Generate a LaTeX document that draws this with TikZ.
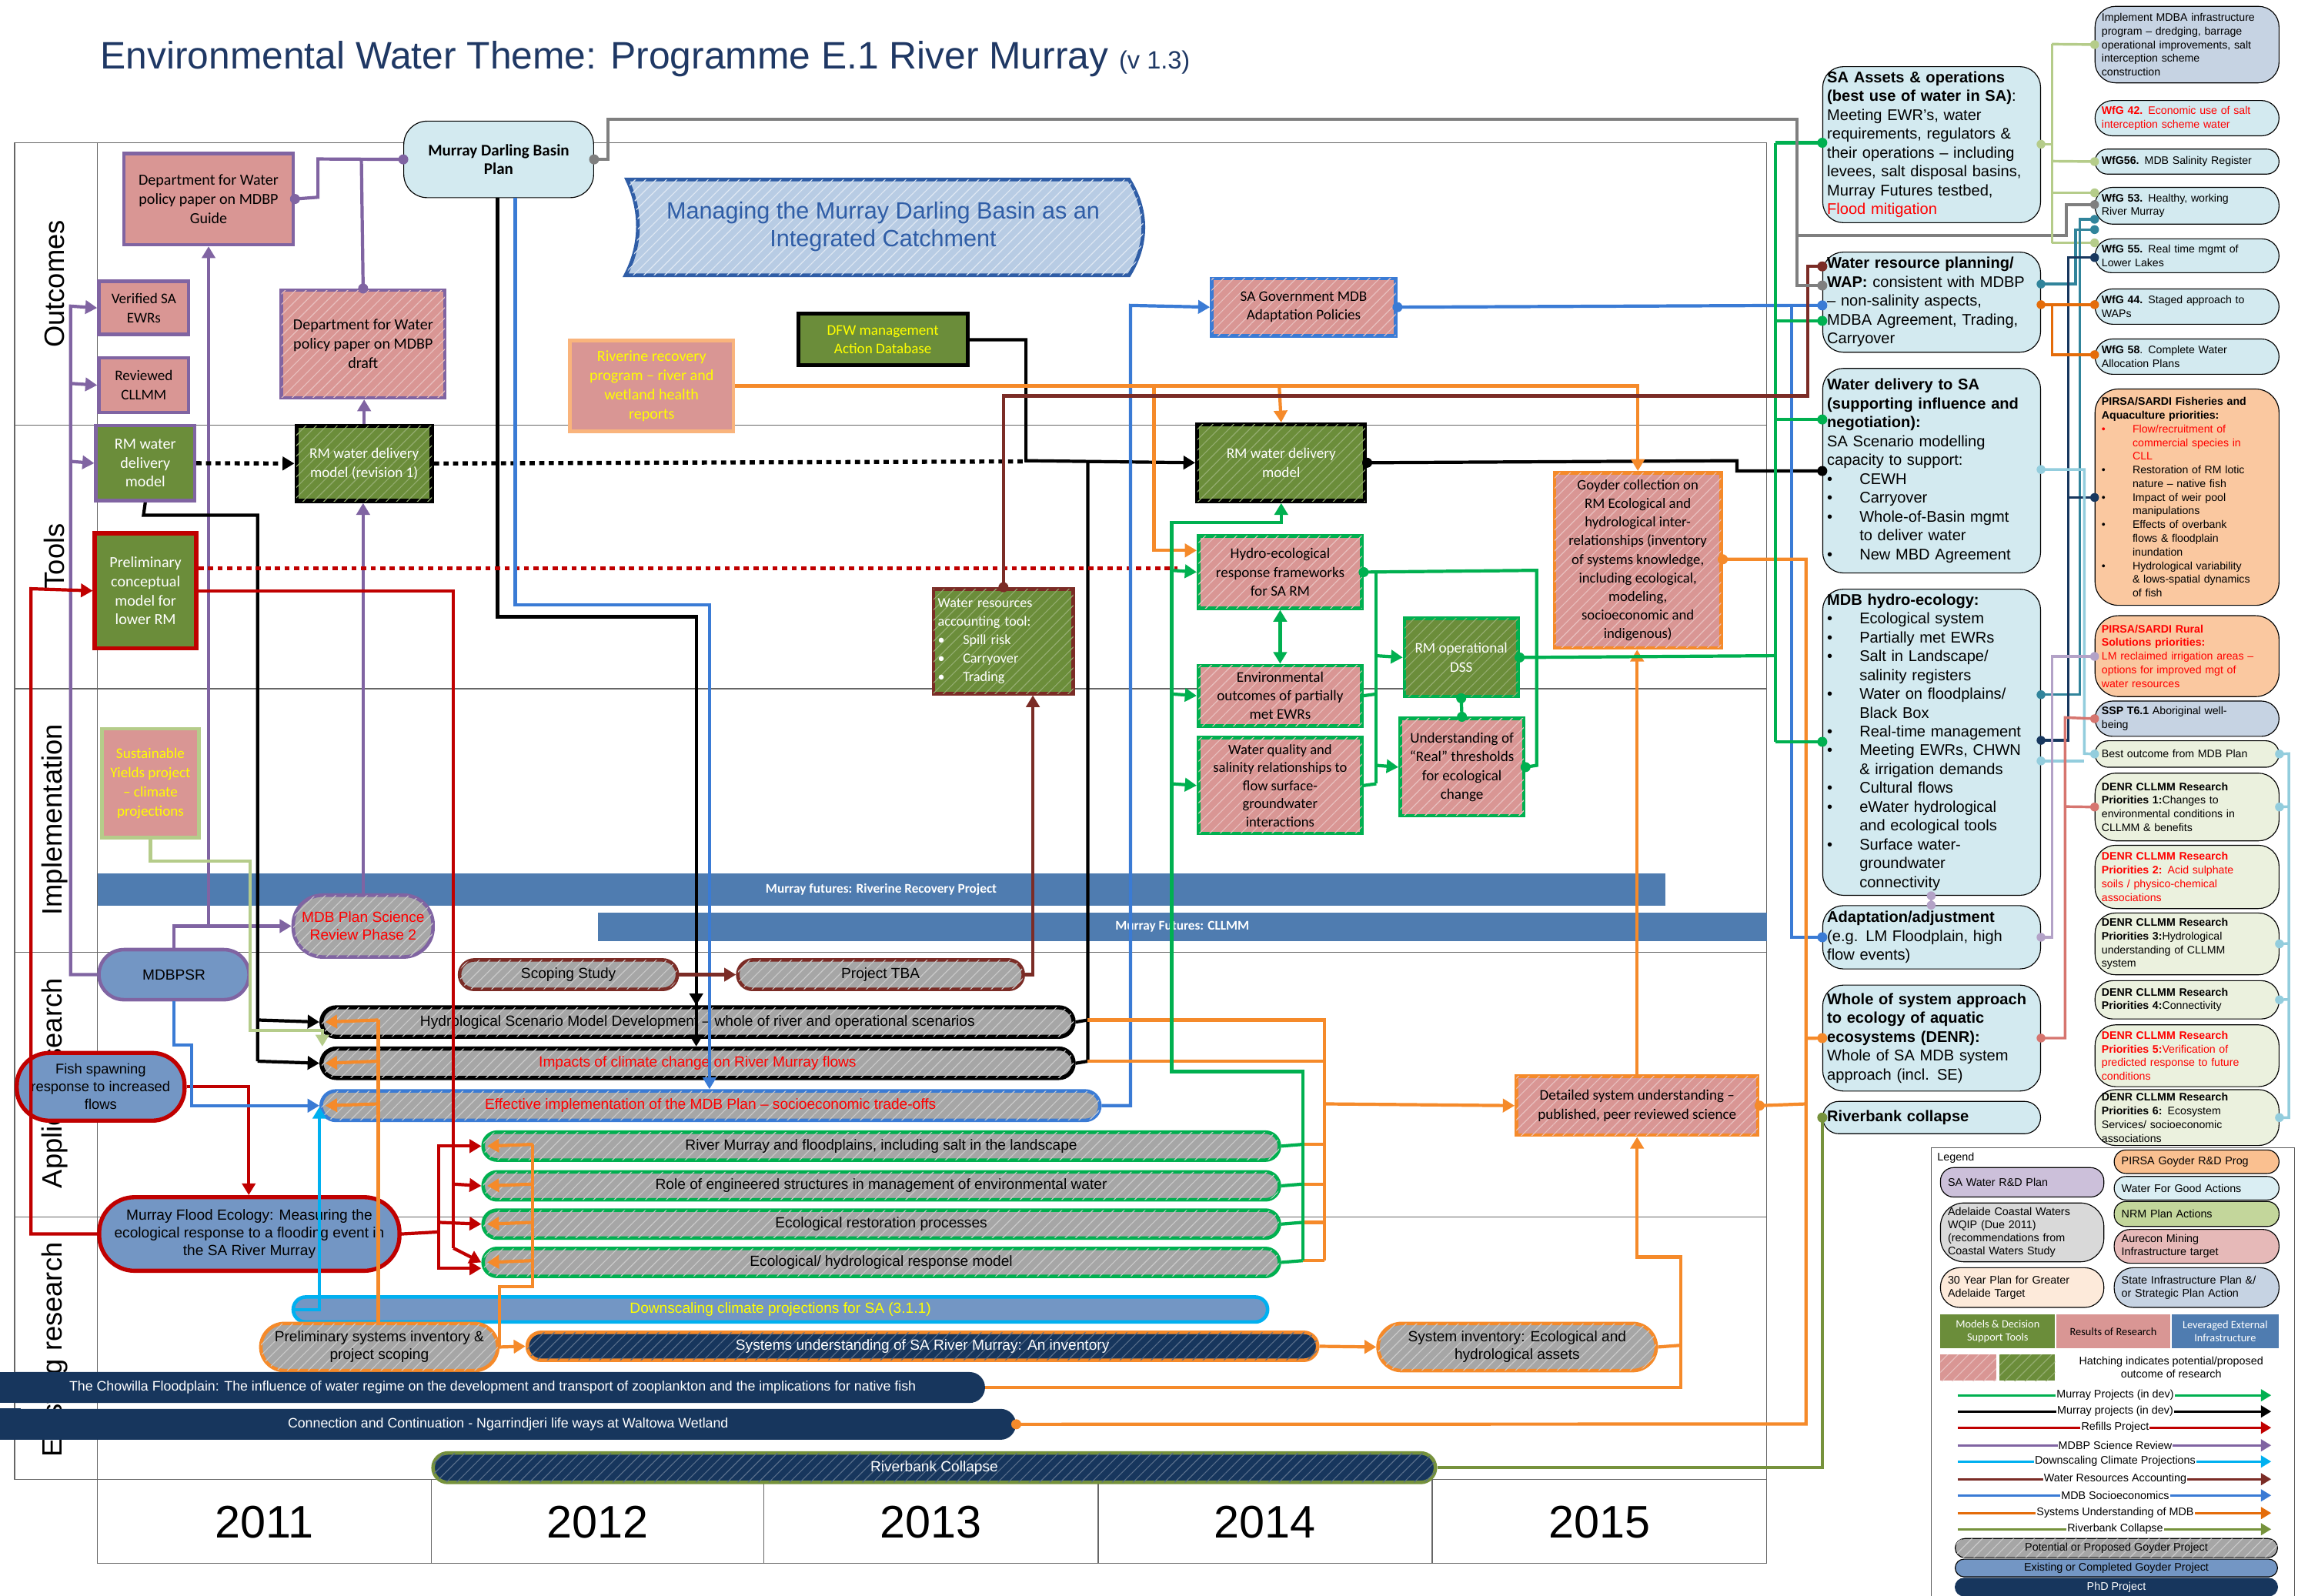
\documentclass[tikz,border=0pt]{standalone}
\usepackage{fontspec}
\setmainfont{Liberation Sans}
\newfontfamily\carl{Carlito}
\usetikzlibrary{arrows.meta,patterns.meta,calc}

% fills
\definecolor{pinkF}{HTML}{D99694}
\definecolor{oliveF}{HTML}{6B8D3A}
\definecolor{steelF}{HTML}{7396C4}
\definecolor{paleB}{HTML}{D3EAF0}
\definecolor{greyF}{HTML}{A6A6A6}
\definecolor{navyF}{HTML}{17365D}
\definecolor{bandB}{HTML}{4F7CB0}
\definecolor{peachF}{HTML}{FAC8A0}
\definecolor{slateF}{HTML}{C6D3E3}
\definecolor{creamF}{HTML}{EBF1DE}
\definecolor{bannerF}{HTML}{B8CCE4}
\definecolor{lilacF}{HTML}{CCC0DA}
\definecolor{lgreyF}{HTML}{D9D9D9}
\definecolor{creamY}{HTML}{FDEADA}
\definecolor{peach2}{HTML}{FAC090}
\definecolor{wfgF}{HTML}{DAEEF3}
\definecolor{nrmF}{HTML}{C3D69B}
\definecolor{aureF}{HTML}{E6B9B8}
% hatch line shades
\colorlet{hpinkC}{pinkF!60!white}
\colorlet{holiveC}{oliveF!72!white}
\colorlet{hgreyC}{greyF!60!white}
\colorlet{hnavyC}{navyF!72!white}
\colorlet{hbannerC}{bannerF!45!white}
% lines and text
\definecolor{purpL}{HTML}{8064A2}
\definecolor{redL}{HTML}{C00000}
\definecolor{greenL}{HTML}{00B050}
\definecolor{orangeL}{HTML}{F58A2A}
\definecolor{blueL}{HTML}{3A7BD5}
\definecolor{brownL}{HTML}{7B2C26}
\definecolor{nrmL}{HTML}{B5CC8A}
\definecolor{cyanL}{HTML}{00B0F0}
\definecolor{tealL}{HTML}{31849B}
\definecolor{navyL}{HTML}{17375E}
\definecolor{skyL}{HTML}{93CDDD}
\definecolor{salmonL}{HTML}{D6756F}
\definecolor{lavL}{HTML}{B3A2C7}
\definecolor{rustL}{HTML}{E46C0A}
\definecolor{greyL}{HTML}{7F7F7F}
\definecolor{oliveL}{HTML}{76923C}
\definecolor{riverB}{HTML}{F9B47C}
\definecolor{bannerL}{HTML}{2F5DA6}
\definecolor{titleC}{HTML}{1F3864}
\definecolor{yellowT}{HTML}{FFFF00}
\definecolor{redT}{HTML}{FF0000}

\newcommand\bitem{\makebox[22pt][l]{\textbullet}}
\newcommand\bcont{\hspace*{22pt}}
\newcommand\fitem{\makebox[21pt][l]{\textbullet}}
\newcommand\fcont{\hspace*{21pt}}
\newcommand\jdot[2]{\fill[#1] (#2) circle[radius=3.4pt];}
\newcommand\sdot[2]{\fill[#1] (#2) circle[radius=3pt];}

\tikzset{
  bx/.style={rectangle, draw, anchor=north west, align=center, inner sep=1.5pt},
  hpk/.style={postaction={pattern={Lines[angle=45,distance=5pt,line width=0.6pt]}, pattern color=hpinkC}},
  hol/.style={postaction={pattern={Lines[angle=45,distance=5pt,line width=0.6pt]}, pattern color=holiveC}},
  hgr/.style={postaction={pattern={Lines[angle=45,distance=5pt,line width=0.6pt]}, pattern color=hgreyC}},
  hnv/.style={postaction={pattern={Lines[angle=45,distance=5pt,line width=0.6pt]}, pattern color=hnavyC}},
  hbn/.style={postaction={pattern={Lines[angle=45,distance=5pt,line width=0.6pt]}, pattern color=hbannerC}},
  pinkbox/.style={bx, fill=pinkF, line width=2.4pt, font=\carl\fontsize{10.5}{13}\selectfont},
  olivebox/.style={bx, fill=oliveF, line width=2.4pt, text=white, font=\carl\fontsize{10.5}{13}\selectfont},
  pillbox/.style={bx, line width=2.4pt, font=\fontsize{10}{12}\selectfont, inner sep=0pt},
  band/.style={bx, draw=none, fill=bandB, text=white, font=\carl\bfseries\fontsize{9}{10}\selectfont, inner sep=0pt},
  navybar/.style={bx, draw=none, fill=navyF, text=white, font=\fontsize{9.3}{11}\selectfont, inner sep=0pt, rounded corners=10.5pt},
  outbox/.style={bx, fill=paleB, rounded corners=14pt, line width=0.6pt, align=left, text width=142pt, inner xsep=3pt, inner ysep=1pt, font=\fontsize{10.5}{12.8}\selectfont},
  farbox/.style={bx, fill=paleB, rounded corners=10pt, line width=0.6pt, align=left, text width=116pt, inner xsep=4.5pt, inner ysep=0.5pt, minimum width=125pt, font=\fontsize{7.4}{9.3}\selectfont},
  legbox/.style={bx, rounded corners=9pt, line width=0.6pt, align=left, inner xsep=5pt, inner ysep=0.5pt, font=\fontsize{7.5}{9}\selectfont},
  ln/.style={line width=2.2pt},
  rl/.style={line width=1.8pt},
  ar/.style={-{Triangle[length=8pt,width=9pt]}},
  dashln/.style={line width=2.8pt, dash pattern=on 3.5pt off 3pt},
  gridln/.style={draw=gray!80!black, line width=0.7pt},
  lane/.style={rotate=90, font=\fontsize{19}{22}\selectfont},
  yearlbl/.style={font=\fontsize{31}{34}\selectfont},
}

\begin{document}
\begin{tikzpicture}[x=1pt,y=-1pt]
\useasboundingbox (0,0) rectangle (1568,1084);
\fill[white] (0,0) rectangle (1568,1084);

% ---------- title ----------
\node[anchor=base west, text=titleC, inner sep=0pt, font=\fontsize{26}{30}\selectfont] (title) at (68,47)
  {Environmental Water Theme: Programme E.1 River Murray\ {\fontsize{17}{20}\selectfont(v 1.3)}};

% ---------- swim lanes and year row ----------
\draw[gridln] (10,97) rectangle (1200,1005);
\draw[gridln] (66,97) -- (66,1062) -- (1200,1062) -- (1200,1005);
\foreach \yy in {289,468,647,827} \draw[gridln] (10,\yy) -- (1200,\yy);
\foreach \xx in {293,519,746,973} \draw[gridln] (\xx,1005) -- (\xx,1062);
\node[lane] (lnout) at (37,193) {Outcomes};
\node[lane] (lntool) at (37,378) {Tools};
\node[lane] (lnimp) at (37,557) {Implementation};
\node[lane] (lnapp) at (37,736) {Applied research};
\node[lane] (lnexi) at (37,917) {Existing research};
\node[yearlbl] (y11) at (179.5,1034) {2011};
\node[yearlbl] (y12) at (406,1034) {2012};
\node[yearlbl] (y13) at (632.5,1034) {2013};
\node[yearlbl] (y14) at (859.5,1034) {2014};
\node[yearlbl] (y15) at (1086.5,1034) {2015};

% ---------- outcomes ----------
\node[pinkbox, draw=purpL, minimum width=115pt, minimum height=62pt] (guide) at (83,103) {Department for Water\\policy paper on MDBP\\Guide};
\node[pinkbox, draw=purpL, minimum width=61pt, minimum height=36pt, font=\carl\fontsize{10}{13}\selectfont] (verified) at (66,190) {Verified SA\\EWRs};
\node[pinkbox, draw=purpL, minimum width=61pt, minimum height=37pt, font=\carl\fontsize{10}{13}\selectfont] (reviewed) at (66,242) {Reviewed\\CLLMM};
\node[pinkbox, hpk, draw=purpL, minimum width=111pt, minimum height=73pt] (draft) at (190,196) {Department for Water\\policy paper on MDBP\\draft};
\node[bx, fill=paleB, rounded corners=16pt, line width=0.6pt, minimum width=129pt, minimum height=52pt, font=\carl\bfseries\fontsize{11}{13}\selectfont] (mdbp) at (274,82) {Murray Darling Basin\\Plan};
\path[draw=bannerL, line width=2.5pt, fill=bannerF, hbn] (426,122) -- (767,122) .. controls (780,143) and (780,166) .. (767,187) -- (425,187) .. controls (436,166) and (436,143) .. (426,122) -- cycle;
\node[text=bannerL, align=center, font=\fontsize{16}{19}\selectfont] (banner) at (600,154) {Managing the Murray Darling Basin as an\\Integrated Catchment};
\node[bx, fill=oliveF, line width=2.6pt, text=yellowT, minimum width=115pt, minimum height=35pt, font=\carl\fontsize{10}{13}\selectfont] (dfw) at (541,212) {DFW management\\Action Database};
\node[pinkbox, draw=riverB, text=yellowT, minimum width=111pt, minimum height=62pt] (riverine) at (386,230) {Riverine recovery\\program – river and\\wetland health\\reports};
\node[pinkbox, hpk, draw=blueL, minimum width=125pt, minimum height=39pt, font=\carl\fontsize{10}{12.5}\selectfont] (sagov) at (822,188) {SA Government MDB\\Adaptation Policies};

% ---------- tools ----------
\node[olivebox, draw=purpL, minimum width=67pt, minimum height=51pt, font=\carl\fontsize{10.5}{12.8}\selectfont] (rmleft) at (64,288) {RM water\\delivery\\model};
\node[olivebox, hol, draw=black, line width=2.8pt, minimum width=92pt, minimum height=51pt, font=\carl\fontsize{10}{13}\selectfont] (rmrev) at (200,288) {RM water delivery\\model (revision 1)};
\node[olivebox, hol, draw=black, line width=2.8pt, minimum width=114pt, minimum height=52pt, font=\carl\fontsize{10}{13}\selectfont] (rmcen) at (812,287) {RM water delivery\\model};
\node[olivebox, draw=redL, line width=2.8pt, minimum width=69pt, minimum height=78pt] (prelim) at (63,361) {Preliminary\\conceptual\\model for\\lower RM};
\node[olivebox, hol, draw=brownL, minimum width=95pt, minimum height=71pt, align=left, text width=89pt, font=\carl\fontsize{9.5}{12.5}\selectfont] (wrat) at (633,399) {Water resources\\accounting tool:\\\makebox[17pt][l]{\textbullet}Spill risk\\\makebox[17pt][l]{\textbullet}Carryover\\\makebox[17pt][l]{\textbullet}Trading};
\node[pinkbox, hpk, draw=greenL, minimum width=111pt, minimum height=49pt, font=\carl\fontsize{10}{13}\selectfont] (hydeco) at (813,363) {Hydro-ecological\\response frameworks\\for SA RM};
\node[pinkbox, hpk, draw=greenL, minimum width=111pt, minimum height=41pt, font=\carl\fontsize{10}{12.6}\selectfont] (envout) at (813,451) {Environmental\\outcomes of partially\\met EWRs};
\node[pinkbox, hpk, draw=greenL, minimum width=111pt, minimum height=65pt, font=\carl\fontsize{9.7}{12.3}\selectfont] (wq) at (813,500) {Water quality and\\salinity relationships to\\flow surface-\\groundwater\\interactions};
\node[olivebox, hol, draw=greenL, minimum width=77pt, minimum height=53pt, font=\carl\fontsize{10}{13}\selectfont] (dss) at (953,419) {RM operational\\DSS};
\node[pinkbox, hpk, draw=greenL, minimum width=84pt, minimum height=66pt, font=\carl\fontsize{10}{12.8}\selectfont] (thresh) at (950,487) {Understanding of\\“Real” thresholds\\for ecological\\change};
\node[pinkbox, hpk, draw=orangeL, minimum width=113pt, minimum height=119pt, font=\carl\fontsize{9.8}{12.6}\selectfont] (goyder) at (1055,320) {Goyder collection on\\RM Ecological and\\hydrological inter-\\relationships (inventory\\of systems knowledge,\\including ecological,\\modeling,\\socioeconomic and\\indigenous)};

% ---------- implementation ----------
\node[pinkbox, draw=nrmL, text=yellowT, minimum width=66pt, minimum height=74pt, font=\carl\fontsize{10}{13}\selectfont] (syp) at (68,494) {Sustainable\\Yields project\\– climate\\projections};
\node[band, minimum width=1065pt, minimum height=22pt] (rrp) at (66,593) {Murray futures: Riverine Recovery Project};
\node[band, minimum width=794pt, minimum height=19pt] (cllmm) at (406,620) {Murray Futures: CLLMM};
\node[pillbox, fill=greyF, hgr, draw=purpL, text=redT, rounded corners=20pt, minimum width=95pt, minimum height=42pt] (review2) at (198,607) {MDB Plan Science\\Review Phase 2};
\node[pillbox, fill=steelF, draw=purpL, rounded corners=17pt, minimum width=102pt, minimum height=34pt] (mdbpsr) at (66,644) {MDBPSR};

% ---------- applied research ----------
\node[pillbox, fill=greyF, hgr, draw=brownL, rounded corners=10pt, minimum width=148pt, minimum height=20pt] (scoping) at (311,651) {Scoping Study};
\node[pillbox, fill=greyF, hgr, draw=brownL, rounded corners=10pt, minimum width=194pt, minimum height=20pt] (tba) at (500,651) {Project TBA};
\node[pillbox, fill=greyF, hgr, draw=black, line width=2.8pt, rounded corners=10pt, minimum width=511pt, minimum height=20pt] (hsm) at (217,683) {Hydrological Scenario Model Development – whole of river and operational scenarios};
\node[pillbox, fill=greyF, hgr, draw=black, line width=2.8pt, text=redT, rounded corners=10pt, minimum width=511pt, minimum height=20pt] (icc) at (217,711) {Impacts of climate change on River Murray flows};
\node[pillbox, fill=greyF, hgr, draw=blueL, text=redT, rounded corners=10pt, minimum width=529pt, minimum height=20pt] (eff) at (217,740) {Effective implementation of the MDB Plan – socioeconomic trade-offs};
\node[pillbox, fill=steelF, draw=redL, line width=2.8pt, rounded corners=22pt, minimum width=114pt, minimum height=46pt, font=\fontsize{9.6}{12}\selectfont] (fish) at (10,714) {Fish spawning\\response to increased\\flows};
\node[pillbox, fill=greyF, hgr, draw=greenL, rounded corners=9.5pt, minimum width=541pt, minimum height=19pt] (rm1) at (327,768) {River Murray and floodplains, including salt in the landscape};
\node[pillbox, fill=greyF, hgr, draw=greenL, rounded corners=9.5pt, minimum width=541pt, minimum height=19pt] (rm2) at (327,795) {Role of engineered structures in management of environmental water};
\node[pillbox, fill=greyF, hgr, draw=greenL, rounded corners=9.5pt, minimum width=541pt, minimum height=19pt] (rm3) at (327,821) {Ecological restoration processes};
\node[pillbox, fill=greyF, hgr, draw=greenL, rounded corners=9.5pt, minimum width=541pt, minimum height=19pt] (rm4) at (327,847) {Ecological/ hydrological response model};
\node[pillbox, fill=steelF, draw=redL, line width=2.8pt, rounded corners=24pt, minimum width=204pt, minimum height=50pt] (flood) at (66,812) {Murray Flood Ecology: Measuring the\\ecological response to a flooding event in\\the SA River Murray};

% ---------- existing research ----------
\node[pillbox, fill=steelF, draw=cyanL, text=yellowT, rounded corners=8.5pt, minimum width=662pt, minimum height=17pt] (down) at (198,880) {Downscaling climate projections for SA (3.1.1)};
\node[pillbox, fill=greyF, hgr, draw=orangeL, rounded corners=16pt, minimum width=161pt, minimum height=32pt] (psi) at (176,898) {Preliminary systems inventory \&\\project scoping};
\node[pillbox, fill=navyF, hnv, draw=orangeL, text=white, rounded corners=9.5pt, minimum width=537pt, minimum height=19pt] (sus) at (357,904) {Systems understanding of SA River Murray: An inventory};
\node[pillbox, fill=greyF, hgr, draw=orangeL, rounded corners=16pt, minimum width=189pt, minimum height=32pt] (sysinv) at (935,898) {System inventory: Ecological and\\hydrological assets};
\node[navybar, minimum width=669pt, minimum height=21pt] (chow) at (0,932) {The Chowilla Floodplain: The influence of water regime on the development and transport of zooplankton and the implications for native fish};
\fill[navyF] (0,932) rectangle (14,953);
\node[navybar, minimum width=690pt, minimum height=21pt] (conn) at (0,957) {Connection and Continuation - Ngarrindjeri life ways at Waltowa Wetland};
\fill[navyF] (0,957) rectangle (14,978);
\node[pillbox, fill=navyF, hnv, draw=oliveL, text=white, rounded corners=10pt, minimum width=681pt, minimum height=20pt] (rbc) at (293,986) {Riverbank Collapse};
\node[pinkbox, hpk, draw=orangeL, minimum width=164pt, minimum height=40pt, font=\carl\fontsize{10}{13}\selectfont] (detail) at (1029,730) {Detailed system understanding –\\published, peer reviewed science};

% ---------- outcome targets (right column) ----------
\node[outbox, minimum height=106pt] (sa) at (1238,45) {\textbf{SA Assets \& operations}\\\textbf{(best use of water in SA)}:\\Meeting EWR’s, water\\requirements, regulators \&\\their operations – including\\levees, salt disposal basins,\\Murray Futures testbed,\\{\color{redT}Flood mitigation}};
\node[outbox, minimum height=68pt] (wrp) at (1238,171) {\textbf{Water resource planning/}\\\textbf{WAP:} consistent with MDBP\\– non-salinity aspects,\\MDBA Agreement, Trading,\\Carryover};
\node[outbox, minimum height=139pt] (wdel) at (1238,250) {\textbf{Water delivery to SA}\\\textbf{(supporting influence and}\\\textbf{negotiation):}\\SA Scenario modelling\\capacity to support:\\\bitem CEWH\\\bitem Carryover\\\bitem Whole-of-Basin mgmt\\\bcont to deliver water\\\bitem New MBD Agreement};
\node[outbox, minimum height=208pt] (hydro) at (1238,400) {\textbf{MDB hydro-ecology:}\\\bitem Ecological system\\\bitem Partially met EWRs\\\bitem Salt in Landscape/\\\bcont salinity registers\\\bitem Water on floodplains/\\\bcont Black Box\\\bitem Real-time management\\\bitem Meeting EWRs, CHWN\\\bcont \& irrigation demands\\\bitem Cultural flows\\\bitem eWater hydrological\\\bcont and ecological tools\\\bitem Surface water-\\\bcont groundwater\\\bcont connectivity};
\node[outbox, minimum height=43pt] (adapt) at (1238,615) {\textbf{Adaptation/adjustment}\\(e.g. LM Floodplain, high\\flow events)};
\node[outbox, minimum height=72pt] (whole) at (1238,669) {\textbf{Whole of system approach}\\\textbf{to ecology of aquatic}\\\textbf{ecosystems (DENR):}\\Whole of SA MDB system\\approach (incl. SE)};
\node[outbox, minimum height=22pt, rounded corners=11pt] (rbank) at (1238,748) {\textbf{Riverbank collapse}};

% ---------- policy links (far right column) ----------
\node[farbox, fill=slateF, rounded corners=14pt, minimum height=52pt] (impl) at (1423,4) {Implement MDBA infrastructure\\program – dredging, barrage\\operational improvements, salt\\interception scheme\\construction};
\node[farbox, text=redT, rounded corners=12pt, minimum height=24pt] (w42) at (1423,68) {\textbf{WfG 42.} Economic use of salt\\interception scheme water};
\node[farbox, rounded corners=8.5pt, minimum height=17pt] (w56) at (1423,101) {\textbf{WfG56.} MDB Salinity Register};
\node[farbox, rounded corners=12pt, minimum height=25pt] (w53) at (1423,127) {\textbf{WfG 53.} Healthy, working\\River Murray};
\node[farbox, rounded corners=11.5pt, minimum height=23pt] (w55) at (1423,162) {\textbf{WfG 55.} Real time mgmt of\\Lower Lakes};
\node[farbox, rounded corners=12pt, minimum height=24pt] (w44) at (1423,196) {\textbf{WfG 44.} Staged approach to\\WAPs};
\node[farbox, rounded corners=12pt, minimum height=24pt] (w58) at (1423,230) {\textbf{WfG 58}. Complete Water\\Allocation Plans};
\node[farbox, fill=peachF, rounded corners=16pt, minimum height=147pt] (pirsa1) at (1423,264) {\textbf{PIRSA/SARDI Fisheries and}\\\textbf{Aquaculture priorities:}\\{\color{redT}\fitem Flow/recruitment of}\\{\color{redT}\fcont commercial species in}\\{\color{redT}\fcont CLL}\\\fitem Restoration of RM lotic\\\fcont nature – native fish\\\fitem Impact of weir pool\\\fcont manipulations\\\fitem Effects of overbank\\\fcont flows \& floodplain\\\fcont inundation\\\fitem Hydrological variability\\\fcont \& lows-spatial dynamics\\\fcont of fish};
\node[farbox, fill=peachF, text=redT, rounded corners=16pt, minimum height=55pt] (pirsa2) at (1423,418) {\textbf{PIRSA/SARDI Rural}\\\textbf{Solutions priorities:}\\LM reclaimed irrigation areas –\\options for improved mgt of\\water resources};
\node[farbox, fill=slateF, rounded corners=12pt, minimum height=24pt] (ssp) at (1423,476) {\textbf{SSP T6.1} Aboriginal well-\\being};
\node[farbox, fill=creamF, rounded corners=9pt, minimum height=18pt] (best) at (1423,503) {Best outcome from MDB Plan};
\node[farbox, fill=creamF, rounded corners=14pt, minimum height=46pt] (denr1) at (1423,525) {\textbf{DENR CLLMM Research}\\\textbf{Priorities 1:}Changes to\\environmental conditions in\\CLLMM \& benefits};
\node[farbox, fill=creamF, text=redT, rounded corners=14pt, minimum height=43pt] (denr2) at (1423,574) {\textbf{DENR CLLMM Research}\\\textbf{Priorities 2:} Acid sulphate\\soils / physico-chemical\\associations};
\node[farbox, fill=creamF, rounded corners=14pt, minimum height=42pt] (denr3) at (1423,620) {\textbf{DENR CLLMM Research}\\\textbf{Priorities 3:}Hydrological\\understanding of CLLMM\\system};
\node[farbox, fill=creamF, rounded corners=12pt, minimum height=26pt] (denr4) at (1423,666) {\textbf{DENR CLLMM Research}\\\textbf{Priorities 4:}Connectivity};
\node[farbox, fill=creamF, text=redT, rounded corners=14pt, minimum height=42pt] (denr5) at (1423,696) {\textbf{DENR CLLMM Research}\\\textbf{Priorities 5:}Verification of\\predicted response to future\\conditions};
\node[farbox, fill=creamF, rounded corners=14pt, minimum height=38pt] (denr6) at (1423,740) {\textbf{DENR CLLMM Research}\\\textbf{Priorities 6:} Ecosystem\\Services/ socioeconomic\\associations};

% ================= connectors =================
% MDBP science review (purple)
\draw[ln, purpL] (mdbp.west) -- (216,108) -- (216,134) -- (guide.east);
\draw[ln, purpL] (245.5,108) -- (draft.north);
\jdot{purpL}{mdbp.west} \jdot{purpL}{guide.east} \jdot{purpL}{draft.north}
\draw[ln, purpL, ar] (mdbpsr.north) |- (review2.west);
\draw[ln, purpL, ar] (guide.south |- 0,628) -- (guide.south);
\draw[ln, purpL, ar] (mdbpsr.west) -| (48,208) -- (verified.west);
\draw[ln, purpL, ar] (48,260.5) -- (reviewed.west);
\draw[ln, purpL, ar] (48,313.5) -- (rmleft.west);
\draw[ln, purpL, ar] (review2.north) -- (review2.north |- rmrev.south);
\draw[ln, purpL, ar] (rmrev.north) -- (rmrev.north |- draft.south);

% Murray projects (black)
\draw[dashln, ar] (rmleft.east) -- (rmrev.west);
\draw[dashln] (rmrev.east) -- (697,313.5);
\draw[ln, black, ar] (dfw.east) -| (697,313) -- (rmcen.west);
\draw[ln, black] (rmcen.east) -- (1180,313) -- (1180,320) -- (wdel.west |- 0,320);
\jdot{black}{rmcen.east} \jdot{black}{wdel.west |- 0,320}
\draw[ln, black, ar] ([xshift=64pt]mdbp.south west) |- (473,419) -- (473,711);
\draw[ln, black, ar] (473,670) -- (473,683);
\draw[ln, black] (rmleft.south) -- (97.5,350) -- (175,350) -- (175,721);
\draw[ln, black, ar] (175,693) -- (hsm.west);
\draw[ln, black, ar] (175,721) -- (icc.west);
\draw[ln, black] (739,313) -- (739,721) -- (icc.east);
\draw[ln, black] (739,693) -- (hsm.east);

% Refills project (red)
\draw[dashln, redL] (prelim.east |- 0,386) -- (800,386);
\draw[ln, redL, ar] (flood.west) -| (21,400) -- (prelim.west);
\draw[ln, redL] (prelim.east) -| (308,848);
\draw[ln, redL, ar] (308,804.5) -- (rm2.west);
\draw[ln, redL, ar] (308,848) -- (rm4.west);
\draw[ln, redL] (flood.east) -- (298,837);
\draw[ln, redL, ar] (298,837) |- (rm1.west);
\draw[ln, redL, ar] (298,830.5) -- (rm3.west);
\draw[ln, redL, ar] (298,837) |- ([yshift=-4pt]rm4.west);
\draw[ln, redL, ar] (fish.east) -| (flood.north -| 169,0);

% MDB socioeconomics (blue)
\draw[ln, blueL, ar] ([xshift=76pt]mdbp.south west) |- (482,411) -- (482,740);
\draw[ln, blueL, ar] (mdbpsr.south) |- (130,710) |- (eff.west);
\draw[ln, blueL, ar] (eff.east) -| (768,207.5) -- (sagov.west);
\draw[ln, blueL] (sagov.east) -- (1217,207.5) -- (wrp.west |- 0,207.5);
\draw[ln, blueL] (1217,207.5) |- (adapt.west);
\jdot{blueL}{sagov.east} \jdot{blueL}{wrp.west |- 0,207.5} \jdot{blueL}{adapt.west}

% systems understanding (orange)
\draw[ln, orangeL, ar] (riverine.east) -| (goyder.north);
\draw[ln, orangeL, ar] (869,261) -- (rmcen.north);
\draw[ln, orangeL, ar] (784,261) |- (hydeco.west |- 0,374);
\draw[ln, orangeL] (goyder.east |- 0,380) -- (1227,380) -- (1227,967.5) -- (conn.east);
\draw[ln, orangeL] (1227,705.5) -- (whole.west);
\draw[ln, orangeL] (detail.east) -- (1227,750);
\jdot{orangeL}{goyder.east |- 0,380} \jdot{orangeL}{whole.west} \jdot{orangeL}{detail.east} \jdot{orangeL}{conn.east}
\draw[ln, orangeL, ar] (detail.north) -- (detail.north |- goyder.south);
\draw[ln, orangeL, ar] (chow.east) -| (1142,854) -| (detail.south);
\draw[ln, orangeL] (sysinv.east) -- (1142,914);
\draw[ln, orangeL] (739,693) -- (900,693) -- (900,856.5);
\draw[ln, orangeL] (739,721) -- (900,721);
\draw[ln, orangeL, ar] (900,750) -- (detail.west);
\foreach \yy in {777.5,804.5,830.5,856.5} \draw[ln, orangeL] (885,\yy) -- (900,\yy);
\draw[ln, orangeL] (psi.north -| 257,0) -- (257,693);
\draw[ln, orangeL, ar] (257,693) -- ([xshift=4pt]hsm.west);
\draw[ln, orangeL, ar] (257,721) -- ([xshift=4pt]icc.west);
\draw[ln, orangeL, ar] (257,750) -- ([xshift=4pt]eff.west);
\draw[ln, orangeL, ar] (psi.east) -- (sus.west);
\draw[ln, orangeL] (psi.east) |- (362,874) -- (362,777.5);
\draw[ln, orangeL, ar] (362,777.5) -- ([xshift=4pt]rm1.west);
\draw[ln, orangeL, ar] (362,804.5) -- ([xshift=4pt]rm2.west);
\draw[ln, orangeL, ar] (362,830.5) -- ([xshift=4pt]rm3.west);
\draw[ln, orangeL, ar] (362,856.5) -- ([xshift=4pt]rm4.west);
\draw[ln, orangeL, ar] (sus.east) -- (sysinv.west);

% Murray projects (green)
\draw[ln, greenL] (rm1.east) -- (885,777.5);
\draw[ln, greenL] (rm2.east) -- (885,804.5);
\draw[ln, greenL] (rm3.east) -- (885,830.5);
\draw[ln, greenL] (rm4.east) -- (885,856.5);
\draw[ln, greenL, ar] (885,856.5) -- (885,728) -- (796,728) -- (796,355) -| (rmcen.south);
\draw[ln, greenL, ar] (796,387.5) -- (hydeco.west);
\draw[ln, greenL, ar] (796,471.5) -- (envout.west);
\draw[ln, greenL, ar] (796,532.5) -- (wq.west);
\draw[ln, greenL, {Triangle[length=8pt,width=9pt]}-{Triangle[length=8pt,width=9pt]}] (hydeco.south) -- (envout.north);
\draw[ln, greenL] (hydeco.east) -- (1044,387.5) -- (1044,520) -- (thresh.east);
\draw[ln, greenL] (935,387.5) -- (935,532.5);
\draw[ln, greenL] (envout.east) -- (935,471.5);
\draw[ln, greenL] (wq.east) -- (935,532.5);
\draw[ln, greenL, ar] (935,445.5) -- (dss.west);
\draw[ln, greenL, ar] (935,520) -- (thresh.west);
\draw[ln, greenL] (dss.south) -- (thresh.north);
\draw[ln, greenL] (dss.east) -- (1206,445.5);
\draw[ln, greenL] (1206,97) -- (1206,504);
\draw[ln, greenL] (1206,97) -- (sa.west |- 0,97);
\draw[ln, greenL] (1206,218) -- (wrp.west |- 0,218);
\draw[ln, greenL] (1206,285) -- (wdel.west |- 0,285);
\draw[ln, greenL] (1206,504) -- (hydro.west |- 0,504);
\jdot{greenL}{hydeco.east} \jdot{greenL}{thresh.east} \jdot{greenL}{dss.south} \jdot{greenL}{thresh.north} \jdot{greenL}{dss.east}
\jdot{greenL}{sa.west |- 0,97} \jdot{greenL}{wrp.west |- 0,218} \jdot{greenL}{wdel.west |- 0,285} \jdot{greenL}{hydro.west |- 0,504}

% water resources accounting (brown)
\draw[ln, brownL] (wrat.north) |- (1228,269) |- (wrp.west |- 0,181);
\jdot{brownL}{wrat.north} \jdot{brownL}{wrp.west |- 0,181}
\draw[ln, brownL, ar] (tba.east) -| ([xshift=20pt]wrat.south);
\draw[ln, brownL, ar] (scoping.east) -- (tba.west);

% plan links (grey)
\draw[ln, greyL] (mdbp.east) -| (413,81) -| (1221,194) -- (wrp.west |- 0,194);
\draw[ln, greyL] (w53.west |- 0,139) -| (1404,160) -- (1221,160);
\jdot{greyL}{mdbp.east} \jdot{greyL}{wrp.west |- 0,194} \sdot{greyL}{w53.west |- 0,139}

% downscaling (cyan) and NRM (light green)
\draw[ln, cyanL, ar] (down.west) -| (217,752);
\draw[ln, nrmL, ar] (syp.south) |- (170,585) -- (170,700) -| (219,711);

% riverbank collapse (olive)
\draw[ln, oliveL] (rbc.east) -| (rbank.west);
\jdot{oliveL}{rbank.west}

% links to policy targets
\draw[rl, nrmL] (sa.east |- 0,98) -- (1394,98);
\draw[rl, nrmL] (1394,30) -- (1394,165);
\draw[rl, nrmL] (1394,30) -- (impl.west);
\draw[rl, nrmL] (1394,109.5) -- (w56.west);
\draw[rl, nrmL] (1394,131) -- (w53.west |- 0,131);
\draw[rl, nrmL] (1394,165) -- (w55.west |- 0,165);
\sdot{nrmL}{sa.east |- 0,98} \sdot{nrmL}{impl.west} \sdot{nrmL}{w56.west} \sdot{nrmL}{w53.west |- 0,131} \sdot{nrmL}{w55.west |- 0,165}
\draw[rl, tealL] (wrp.east |- 0,193) -- (1410,193) -- (1410,156) -- (w53.west |- 0,156);
\draw[rl, tealL] (hydro.east |- 0,472) -- (1413,472) -- (1413,149) -- (w53.west |- 0,149);
\sdot{tealL}{wrp.east |- 0,193} \sdot{tealL}{w53.west |- 0,156} \sdot{tealL}{hydro.east |- 0,472} \sdot{tealL}{w53.west |- 0,149}
\draw[rl, navyL] (w55.west |- 0,175) -| (1405,503) -- (hydro.east |- 0,503);
\draw[rl, navyL] (1405,338) -- (pirsa1.west |- 0,338);
\sdot{navyL}{w55.west |- 0,175} \sdot{navyL}{hydro.east |- 0,503} \sdot{navyL}{pirsa1.west |- 0,338}
\draw[rl, rustL] (wrp.east |- 0,207) -- (w44.west |- 0,207);
\draw[rl, rustL] (1394,207) |- (w58.west |- 0,241);
\sdot{rustL}{wrp.east |- 0,207} \sdot{rustL}{w44.west |- 0,207} \sdot{rustL}{w58.west |- 0,241}
\draw[rl, skyL] (wdel.east |- 0,319) -| (1416,512) -- (best.west);
\draw[rl, skyL] (hydro.east |- 0,517) -- (1416,517);
\sdot{skyL}{wdel.east |- 0,319} \sdot{skyL}{hydro.east |- 0,517} \sdot{skyL}{best.west}
\draw[rl, skyL] (best.east) -- (1555,512) |- (denr6.east);
\draw[rl, skyL] (1555,548) -- (denr1.east);
\draw[rl, skyL] (1555,641) -- (denr3.east);
\draw[rl, skyL] (1555,679) -- (denr4.east);
\sdot{skyL}{best.east} \sdot{skyL}{denr1.east} \sdot{skyL}{denr3.east} \sdot{skyL}{denr4.east} \sdot{skyL}{denr6.east}
\draw[rl, lavL] (adapt.east) -| (1394,446) -- (pirsa2.west |- 0,446);
\draw[rl, lavL] (hydro.south -| 1312,0) -- (adapt.north -| 1312,0);
\sdot{lavL}{adapt.east} \sdot{lavL}{pirsa2.west |- 0,446} \sdot{lavL}{hydro.south -| 1312,0} \sdot{lavL}{adapt.north -| 1312,0}
\draw[rl, salmonL] (whole.east) -| (1403,487.5) -- (ssp.west);
\draw[rl, salmonL] (1403,548) -- (denr1.west);
\sdot{salmonL}{whole.east} \sdot{salmonL}{ssp.west} \sdot{salmonL}{denr1.west}

% ================= legend =================
\draw[gray!70!black, line width=0.6pt] (1312,780) rectangle (1559,1090);
\node[anchor=north west, inner sep=0pt, font=\fontsize{7.5}{9}\selectfont] (legtitle) at (1316,783) {Legend};
\node[legbox, fill=lilacF, text width=101pt, minimum width=111pt, minimum height=20pt] (lg1) at (1318,793) {SA Water R\&D Plan};
\node[legbox, fill=lgreyF, text width=101pt, minimum width=111pt, minimum height=40pt, rounded corners=16pt] (lg2) at (1318,817) {Adelaide Coastal Waters\\WQIP (Due 2011)\\(recommendations from\\Coastal Waters Study};
\node[legbox, fill=creamY, text width=101pt, minimum width=111pt, minimum height=27pt, rounded corners=13pt] (lg3) at (1318,861) {30 Year Plan for Greater\\Adelaide Target};
\node[legbox, fill=peach2, text width=102pt, minimum width=112pt, minimum height=16pt, rounded corners=8pt] (lg4) at (1436,781) {PIRSA Goyder R\&D Prog};
\node[legbox, fill=wfgF, text width=102pt, minimum width=112pt, minimum height=16pt, rounded corners=8pt] (lg5) at (1436,799) {Water For Good Actions};
\node[legbox, fill=nrmF, text width=102pt, minimum width=112pt, minimum height=17pt, rounded corners=8pt] (lg6) at (1436,816) {NRM Plan Actions};
\node[legbox, fill=aureF, text width=102pt, minimum width=112pt, minimum height=23pt, rounded corners=11pt] (lg7) at (1436,835) {Aurecon Mining\\Infrastructure target};
\node[legbox, fill=slateF, text width=102pt, minimum width=112pt, minimum height=27pt, rounded corners=13pt] (lg8) at (1436,861) {State Infrastructure Plan \&/\\or Strategic Plan Action};
\node[bx, draw=none, fill=oliveF, text=white, minimum width=78pt, minimum height=23pt, inner sep=0pt, font=\carl\fontsize{7.5}{9}\selectfont] (sw1) at (1318,893) {Models \& Decision\\Support Tools};
\node[bx, draw=none, fill=pinkF, minimum width=77pt, minimum height=23pt, inner sep=0pt, font=\carl\fontsize{7.5}{9}\selectfont] (sw2) at (1397,893) {Results of Research};
\node[bx, draw=none, fill=bandB, text=white, minimum width=73pt, minimum height=23pt, inner sep=0pt, font=\carl\fontsize{7.5}{9}\selectfont] (sw3) at (1475,893) {Leveraged External\\Infrastructure};
\node[bx, draw=none, fill=pinkF, hpk, minimum width=38pt, minimum height=18pt] (sw4) at (1318,920) {};
\node[bx, draw=none, fill=oliveF, hol, minimum width=38pt, minimum height=18pt] (sw5) at (1358,920) {};
\node[align=center, inner sep=0pt, font=\fontsize{7.5}{9}\selectfont] (hatchnote) at (1475,929) {Hatching indicates potential/proposed\\outcome of research};
\foreach \yy/\cc/\tt [count=\k] in {948/greenL/Murray Projects (in dev), 959/black/Murray projects (in dev), 970/redL/Refills Project, 982/purpL/MDBP Science Review, 993/cyanL/Downscaling Climate Projections, 1005/brownL/Water Resources Accounting, 1016/blueL/MDB Socioeconomics, 1028/rustL/Systems Understanding of MDB, 1039/oliveL/Riverbank Collapse}{
  \coordinate (lgs\k) at (1330,\yy);
  \coordinate (lge\k) at (1543,\yy);
  \draw[line width=1.6pt, \cc, -{Triangle[length=7pt,width=8pt]}] (lgs\k) -- (lge\k);
  \node[fill=white, inner sep=0.6pt, font=\fontsize{7.5}{9}\selectfont] (lgt\k) at (1437,\yy) {\tt};
}
\node[bx, fill=greyF, hgr, rounded corners=6.5pt, line width=0.6pt, minimum width=219pt, minimum height=13pt, inner sep=0pt, font=\fontsize{7.5}{9}\selectfont] (lb1) at (1328,1045) {Potential or Proposed Goyder Project};
\node[bx, fill=steelF, rounded corners=6pt, line width=0.6pt, minimum width=219pt, minimum height=12pt, inner sep=0pt, font=\fontsize{7.5}{9}\selectfont] (lb2) at (1328,1059) {Existing or Completed Goyder Project};
\node[bx, fill=navyF, draw=navyF, text=white, rounded corners=6pt, line width=0.6pt, minimum width=219pt, minimum height=12pt, inner sep=0pt, font=\fontsize{7.5}{9}\selectfont] (lb3) at (1328,1072) {PhD Project};

\end{tikzpicture}
\end{document}
